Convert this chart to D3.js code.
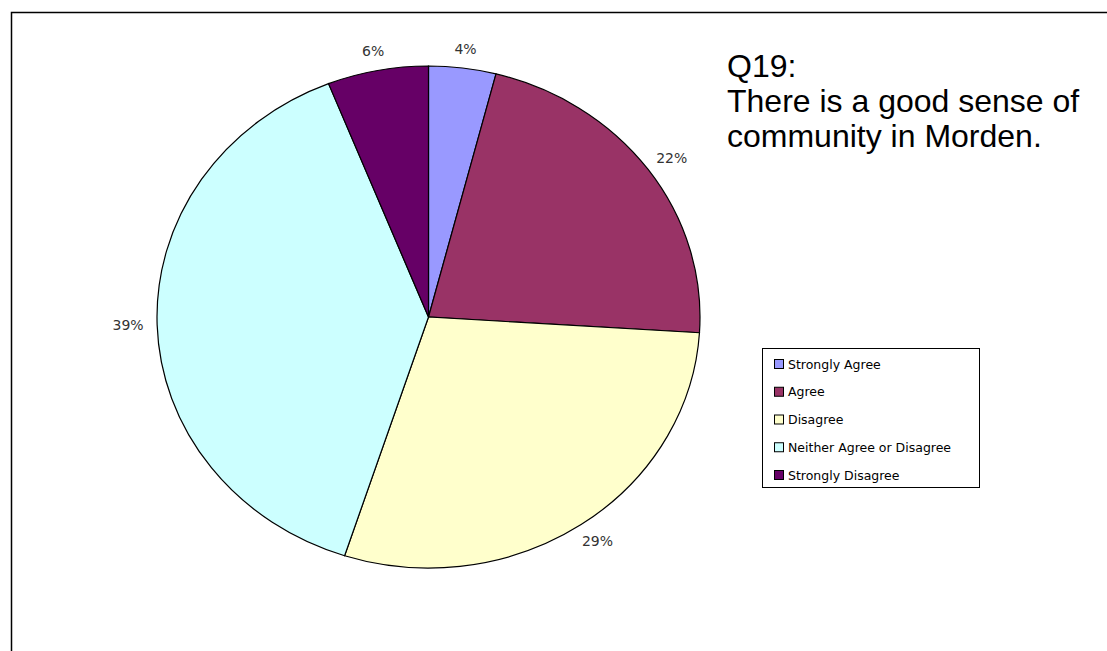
<!DOCTYPE html>
<html>
<head>
<meta charset="utf-8">
<script src="https://cdn.jsdelivr.net/npm/d3@7"></script>
<style>
  html, body { margin: 0; padding: 0; background: #fff; }
  svg { display: block; }
</style>
</head>
<body>
<svg id="chart" width="1107" height="651"></svg>
<script>
// Survey responses, Q19
const categories = ["Strongly Agree", "Agree", "Disagree", "Neither Agree or Disagree", "Strongly Disagree"];
const percentages = [4, 22, 29, 39, 6];
const sliceColors = ["#9999FF", "#993366", "#FFFFCC", "#CCFFFF", "#660066"];
const titleLines = ["Q19:", "There is a good sense of", "community in Morden."];

const W = 1107, H = 651;
const svg = d3.select("#chart");

// outer frame of the chart area (runs past the right and bottom edges)
svg.append("rect")
  .attr("x", 11.5).attr("y", 12.5)
  .attr("width", W + 20).attr("height", H + 20)
  .attr("fill", "#fff")
  .attr("stroke", "#000")
  .attr("stroke-width", 1.5);

// pie geometry: slightly wider than tall
const cx = 428.5, cy = 317, rx = 271.5, ry = 251;
const r = rx, yScale = ry / rx;

const pie = d3.pie().sort(null).value(d => d.value);
const arcs = pie(categories.map((c, i) => ({ name: c, value: percentages[i], color: sliceColors[i] })));
const arc = d3.arc().innerRadius(0).outerRadius(r);

const pieG = svg.append("g")
  .attr("transform", `translate(${cx},${cy}) scale(1,${yScale})`);

pieG.selectAll("path.slice")
  .data(arcs)
  .enter().append("path")
  .attr("class", "slice")
  .attr("d", arc)
  .attr("fill", d => d.data.color)
  .attr("stroke", "#000")
  .attr("stroke-width", 1.2)
  .attr("vector-effect", "non-scaling-stroke");

// percentage labels just outside each slice
const labelFont = 14;
const k = 1.05;
svg.selectAll("text.pct")
  .data(arcs)
  .enter().append("text")
  .attr("class", "pct")
  .each(function (d) {
    const a = (d.startAngle + d.endAngle) / 2;
    const s = Math.sin(a), c = Math.cos(a);
    const txt = d3.format(".0%")(d.data.value / d3.sum(percentages));
    const w = txt.length * 0.74 * labelFont, h = labelFont;
    const x = cx + rx * k * s + s * w / 2;
    const y = cy - ry * k * c - c * h / 2;
    d3.select(this)
      .attr("x", x).attr("y", y)
      .attr("text-anchor", "middle")
      .attr("dominant-baseline", "central")
      .text(txt);
  })
  .attr("font-family", "DejaVu Sans, Verdana, sans-serif")
  .attr("font-size", labelFont)
  .attr("fill", "#333");

// title block
const title = svg.append("text")
  .attr("font-family", "Liberation Sans, Arial, sans-serif")
  .attr("font-size", 32)
  .attr("fill", "#000");
title.selectAll("tspan")
  .data(titleLines)
  .enter().append("tspan")
  .attr("x", 727)
  .attr("y", (d, i) => 77 + i * 35)
  .text(d => d);

// legend
const lg = svg.append("g").attr("transform", "translate(762,348)");
lg.append("rect")
  .attr("x", 0.5).attr("y", 0.5)
  .attr("width", 217).attr("height", 139)
  .attr("fill", "#fff")
  .attr("stroke", "#000")
  .attr("stroke-width", 1);

const rowY = d3.scalePoint().domain(categories).range([16, 127]);
const item = lg.selectAll("g.item")
  .data(categories)
  .enter().append("g")
  .attr("class", "item")
  .attr("transform", d => `translate(0,${rowY(d)})`);
item.append("rect")
  .attr("x", 12.5).attr("y", -4.5)
  .attr("width", 9).attr("height", 9)
  .attr("fill", (d, i) => sliceColors[i])
  .attr("stroke", "#000")
  .attr("stroke-width", 1);
item.append("text")
  .attr("x", 26)
  .attr("y", 0)
  .attr("dominant-baseline", "central")
  .attr("font-family", "DejaVu Sans, Verdana, sans-serif")
  .attr("font-size", 12.5)
  .attr("fill", "#000")
  .text(d => d);
</script>
</body>
</html>
